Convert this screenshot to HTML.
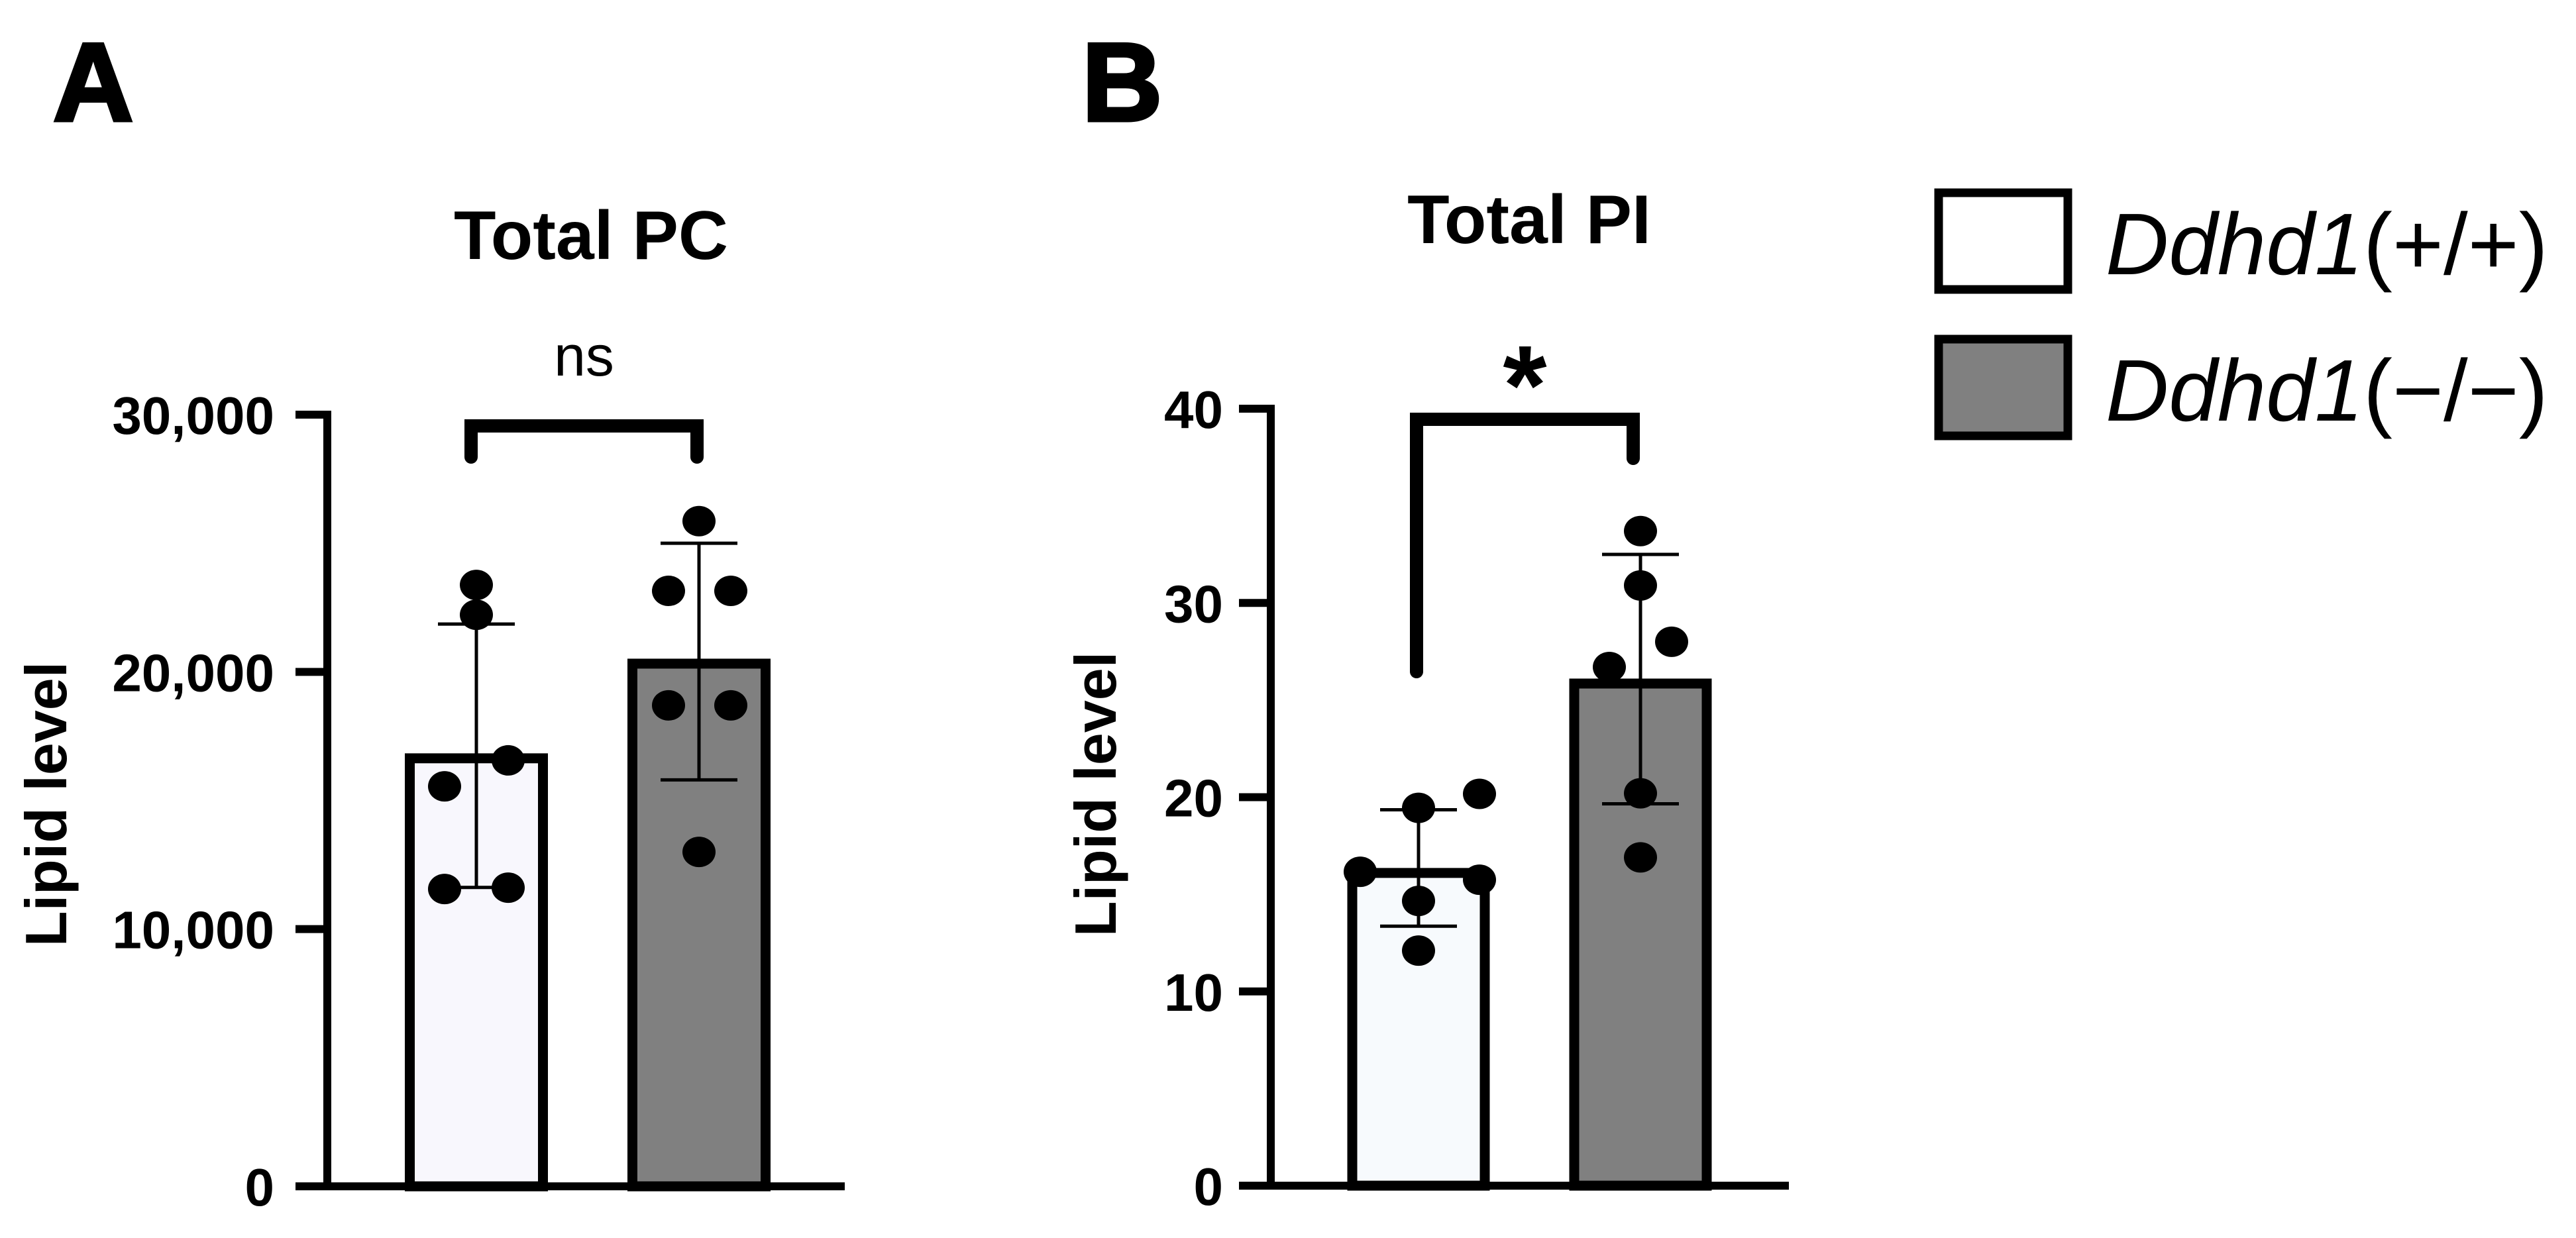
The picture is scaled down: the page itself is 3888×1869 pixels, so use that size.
<!DOCTYPE html>
<html><head><meta charset="utf-8"><style>
html,body{margin:0;padding:0;background:#fff;}
svg{display:block;font-family:"Liberation Sans",Arial,sans-serif;}
</style></head><body>
<svg id="fig" width="3888" height="1869" viewBox="0 0 3888 1869" xmlns="http://www.w3.org/2000/svg">
<rect width="3888" height="1869" fill="#fff"/>
<text x="80" y="182" font-size="168" font-weight="bold" stroke="#000" stroke-width="5">A</text>
<text x="1633" y="182" font-size="168" font-weight="bold" stroke="#000" stroke-width="5">B</text>
<g>
<rect x="2926" y="291" width="195" height="146" fill="#fff" stroke="#000" stroke-width="13"/>
<text x="3178" y="414" font-size="132" font-style="italic"><tspan>Ddhd1</tspan><tspan font-style="normal">(+/+)</tspan></text>
<rect x="2926" y="512" width="195" height="146" fill="#808080" stroke="#000" stroke-width="13"/>
<text x="3178" y="635" font-size="132" font-style="italic"><tspan>Ddhd1</tspan><tspan font-style="normal">(−/−)</tspan></text>
</g>
<g id="panelA"></g>
<g id="panelB"></g>
</svg>
<script>
// ---- Panel A data (Total PC) ----
const aTicks = [0, 10000, 20000, 30000];
const aTickLabels = ["0", "10,000", "20,000", "30,000"];
const aMeans = [16640, 20320];
const aErrHigh = [21860, 25000];
const aErrLow = [11620, 15800];
const aPointsWT = [23380, 22220, 16560, 15550, 11560, 11610];
const aPointsKO = [25860, 23150, 23150, 18700, 18700, 13000];
const aSig = "ns";
// ---- Panel B data (Total PI) ----
const bTicks = [0, 10, 20, 30, 40];
const bTickLabels = ["0", "10", "20", "30", "40"];
const bMeans = [16.1, 25.85];
const bErrHigh = [19.35, 32.5];
const bErrLow = [13.36, 19.66];
const bPointsWT = [19.45, 20.17, 16.16, 15.75, 14.66, 12.1];
const bPointsKO = [33.7, 30.9, 28.0, 26.7, 20.2, 16.9];
const bSig = "*";

const NS = "http://www.w3.org/2000/svg";
function mk(parent, tag, attrs, name, text) {
  const el = document.createElementNS(NS, tag);
  for (const k in attrs) el.setAttribute(k, attrs[k]);
  
  
  if (text !== undefined) el.textContent = text;
  parent.appendChild(el);
  return el;
}

function drawPanel(g, cfg) {
  const yMin = cfg.ticks[0], yMax = cfg.ticks[cfg.ticks.length - 1];
  const y = v => cfg.y0 + (v - yMin) / (yMax - yMin) * (cfg.yTop - cfg.y0);
  mk(g, 'text', {x: cfg.titleX, y: cfg.titleY, 'font-size': 104, 'font-weight': 'bold', 'text-anchor': 'middle'}, 'chart-title', cfg.title);
  mk(g, 'text', {x: 0, y: 0, 'font-size': 88, 'font-weight': 'bold', 'text-anchor': 'middle', transform: `translate(${cfg.ylabX},${cfg.ylabY}) rotate(-90)`}, 'y-axis-title', 'Lipid level');
  const fills = cfg.fills;
  for (let i = 0; i < cfg.means.length; i++) {
    const cx = cfg.barX[i];
    const top = y(cfg.means[i]);
    mk(g, 'rect', {x: cx - cfg.barW / 2, y: top, width: cfg.barW, height: cfg.y0 - top, fill: fills[i], stroke: '#000', 'stroke-width': 15}, i === 0 ? 'bar-wildtype' : 'bar-knockout');
  }
  const sets = [cfg.ptsWT, cfg.ptsKO];
  for (let i = 0; i < 2; i++) {
    sets[i].forEach((v, j) => {
      mk(g, 'ellipse', {cx: cfg.barX[i] + cfg.jitter[i][j], cy: y(v), rx: 25, ry: 23, fill: '#000'}, i === 0 ? 'point-wildtype' : 'point-knockout');
    });
  }
  for (let i = 0; i < 2; i++) {
    const cx = cfg.barX[i];
    mk(g, 'line', {x1: cx, x2: cx, y1: y(cfg.errHigh[i]), y2: y(cfg.errLow[i]), stroke: '#000', 'stroke-width': 5}, 'error-bar');
    mk(g, 'line', {x1: cx - 58, x2: cx + 58, y1: y(cfg.errHigh[i]), y2: y(cfg.errHigh[i]), stroke: '#000', 'stroke-width': 5}, 'error-cap-high');
    mk(g, 'line', {x1: cx - 58, x2: cx + 58, y1: y(cfg.errLow[i]), y2: y(cfg.errLow[i]), stroke: '#000', 'stroke-width': 5}, 'error-cap-low');
  }
  mk(g, 'line', {x1: cfg.axisX, x2: cfg.axisX, y1: y(yMax) - 6, y2: cfg.y0 + 6, stroke: '#000', 'stroke-width': 12}, 'y-axis-line');
  mk(g, 'line', {x1: cfg.axisX - 48, x2: cfg.xEnd, y1: cfg.y0, y2: cfg.y0, stroke: '#000', 'stroke-width': 12}, 'x-axis-line');
  cfg.ticks.forEach((t, k) => {
    mk(g, 'line', {x1: cfg.axisX - 48, x2: cfg.axisX, y1: y(t), y2: y(t), stroke: '#000', 'stroke-width': 12}, 'y-tick');
    mk(g, 'text', {x: cfg.axisX - cfg.labGap, y: y(t) + 29, 'font-size': 80, 'font-weight': 'bold', 'text-anchor': 'end'}, 'y-tick-label', cfg.tickLabels[k]);
  });
  const b = cfg.bracket;
  mk(g, 'path', {d: `M${b.x1},${b.l1} L${b.x1},${b.y} L${b.x2},${b.y} L${b.x2},${b.l2}`, fill: 'none', stroke: '#000', 'stroke-width': 20, 'stroke-linecap': 'round', 'stroke-linejoin': 'miter'}, 'significance-bracket');
  mk(g, 'text', {x: (b.x1 + b.x2) / 2, y: b.textY, 'font-size': b.fs, 'font-weight': b.fw, 'text-anchor': 'middle'}, 'significance-label', cfg.sig);
}

drawPanel(document.getElementById('panelA'), {
  ticks: aTicks, tickLabels: aTickLabels, means: aMeans, errHigh: aErrHigh, errLow: aErrLow,
  ptsWT: aPointsWT, ptsKO: aPointsKO, sig: aSig, title: 'Total PC',
  y0: 1791, yTop: 626, axisX: 494, xEnd: 1275, labGap: 80,
  barX: [719, 1055], barW: 201, fills: ['#f8f7fd', '#808080'],
  jitter: [[0, 0, 48, -48, -48, 48], [0, -46, 48, -46, 48, 0]],
  titleX: 892, titleY: 391, ylabX: 100, ylabY: 1214,
  bracket: {x1: 711, x2: 1052, y: 643, l1: 690, l2: 690, textY: 567, fs: 86, fw: 'normal'}
});
drawPanel(document.getElementById('panelB'), {
  ticks: bTicks, tickLabels: bTickLabels, means: bMeans, errHigh: bErrHigh, errLow: bErrLow,
  ptsWT: bPointsWT, ptsKO: bPointsKO, sig: bSig, title: 'Total PI',
  y0: 1790, yTop: 617, axisX: 1918, xEnd: 2700, labGap: 72,
  barX: [2141, 2476], barW: 200, fills: ['#f7fafd', '#808080'],
  jitter: [[0, 92, -88, 92, 0, 0], [0, 0, 47, -47, 0, 0]],
  titleX: 2308, titleY: 367, ylabX: 1684, ylabY: 1199,
  bracket: {x1: 2138, x2: 2465, y: 633, l1: 1014, l2: 692, textY: 640, fs: 170, fw: 'bold'}
});
</script>
</body></html>
